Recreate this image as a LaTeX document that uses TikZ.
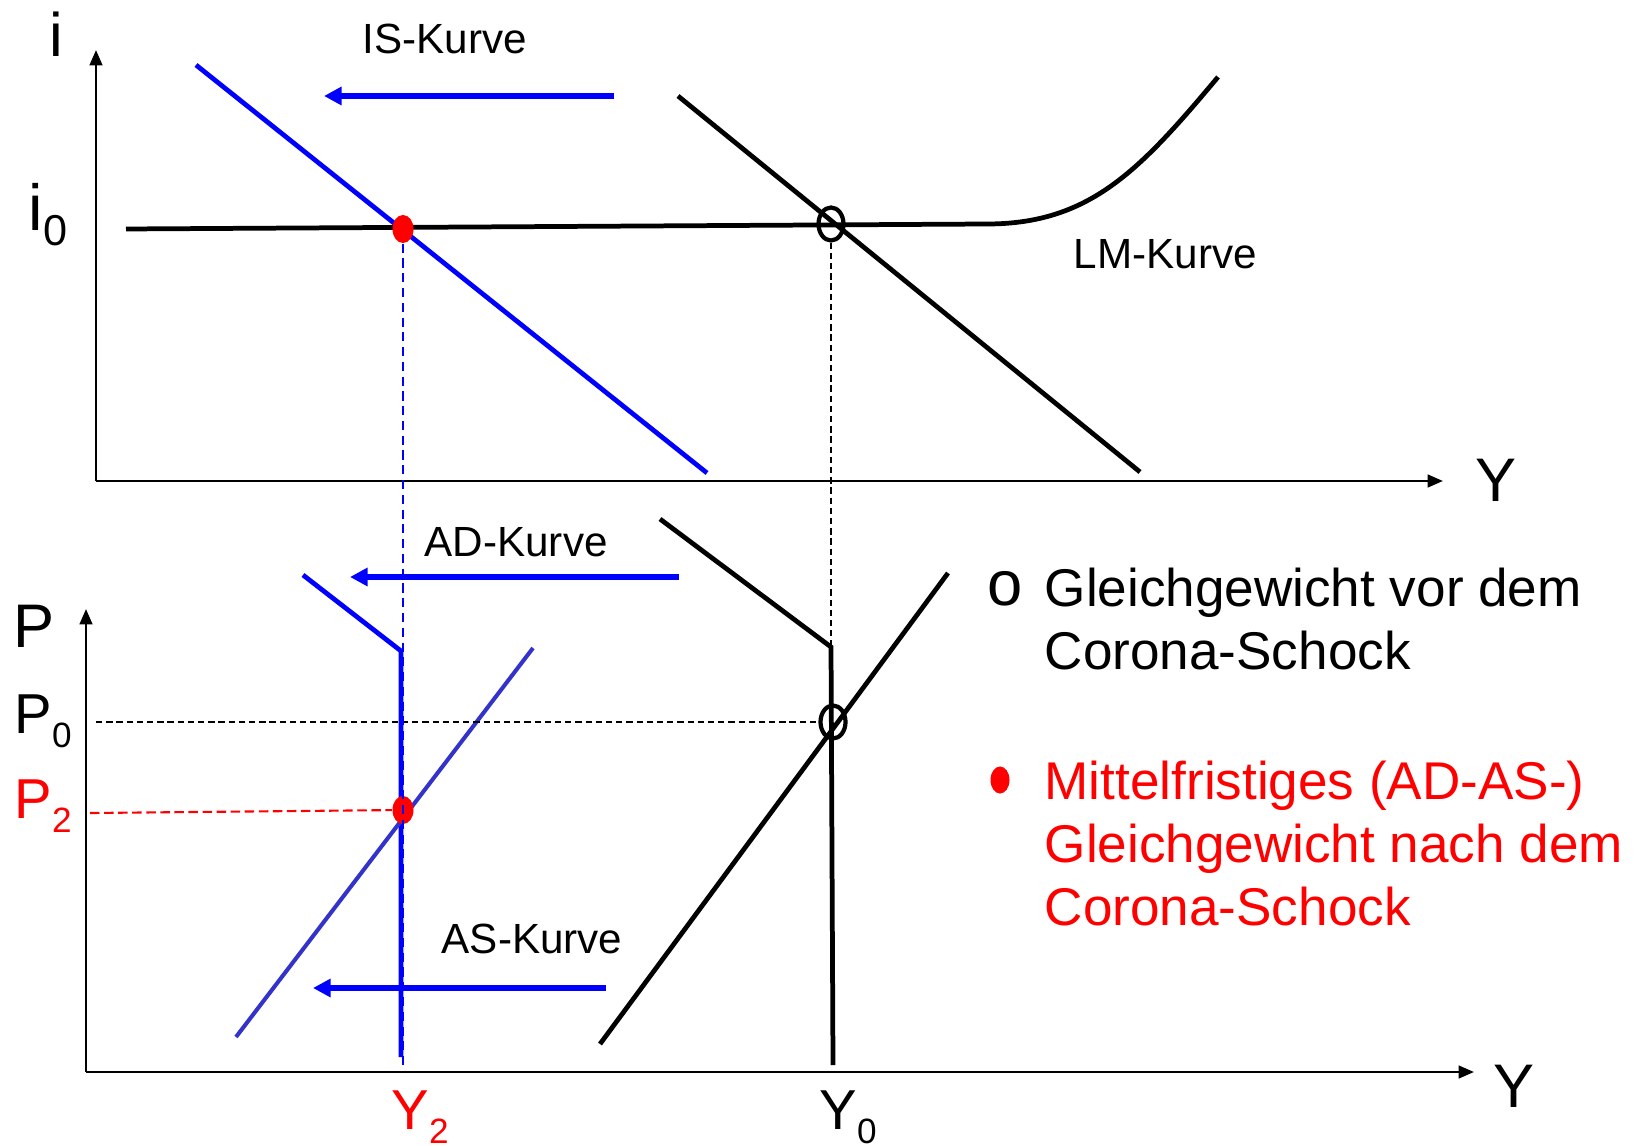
\documentclass[tikz,border=0pt]{standalone}
\usepackage{fontspec}
\setmainfont{Liberation Sans}
\usetikzlibrary{arrows.meta, shapes.geometric}

\definecolor{asblue}{RGB}{51,51,204}
\newcommand{\lowsub}[2][10]{\raisebox{-4pt}{\fontsize{#1}{#1}\selectfont #2}}

\begin{document}
\begin{tikzpicture}[
        x=0.01cm, y=-0.01cm,
        axisline/.style={line width=0.75pt, -{Triangle[length=4.4pt, width=3.6pt]}},
        curveblack/.style={line width=1.35pt},
        curveblue/.style={line width=1.35pt, blue},
        curveas/.style={line width=1.15pt, asblue},
        movearrow/.style={line width=1.45pt, blue, -{Triangle[length=5pt, width=5pt]}},
        guide/.style={line width=0.5pt, dash pattern=on 1.8pt off 1.1pt},
        eqring/.style={ellipse, draw, line width=1.2pt, minimum width=0.25cm, minimum height=0.33cm, inner sep=0pt},
        eqdot/.style={ellipse, fill=red, minimum width=0.21cm, minimum height=0.28cm, inner sep=0pt},
        curvelabel/.style={font=\fontsize{12}{14}\selectfont, anchor=base west, inner sep=0pt},
        axislabel/.style={font=\fontsize{17.5}{20}\selectfont, anchor=base west, inner sep=0pt},
        ticklabel/.style={font=\fontsize{16}{18}\selectfont, anchor=base west, inner sep=0pt},
        legendtext/.style={font=\fontsize{15.1}{17.9}\selectfont, align=left, anchor=north west, inner sep=0pt}
    ]
    \useasboundingbox (0,0) rectangle (1637,1146);

    % IS-LM diagram
    \coordinate (io) at (96,481);
    \coordinate (itop) at (96,50);
    \coordinate (iend) at (1443,481);
    \draw[axisline] (io) -- (itop);
    \draw[axisline] (io) -- (iend);
    \node[axislabel] (ilabel) at (49,57) {i};
    \node[axislabel] (yupper) at (1475,501) {Y};
    \node[ticklabel, font=\fontsize{18.5}{20}\selectfont] (izero) at (28,231) {i\lowsub[12.3]{0}};

    \coordinate (lmA) at (126,229);
    \coordinate (lmB) at (987,224);
    \coordinate (lmC) at (1218,77);
    \draw[curveblack] (lmA) -- (lmB) .. controls (1090,224) and (1140,170) .. (lmC);
    \node[curvelabel] (lmlabel) at (1073,269) {LM-Kurve};

    \coordinate (isA) at (678,96);
    \coordinate (isB) at (1140,472);
    \draw[curveblack] (isA) -- (isB);
    \coordinate (isnewA) at (196,65);
    \coordinate (isnewB) at (707,473);
    \draw[curveblue] (isnewA) -- (isnewB);

    \coordinate (ismoveA) at (614,96);
    \coordinate (ismoveB) at (324,96);
    \draw[movearrow] (ismoveA) -- (ismoveB);
    \node[curvelabel] (islabel) at (362,54) {IS-Kurve};

    % AD-AS diagram
    \coordinate (po) at (86,1072);
    \coordinate (ptop) at (86,609);
    \coordinate (pend) at (1474,1072);
    \draw[axisline] (po) -- (ptop);
    \draw[axisline] (po) -- (pend);
    \node[axislabel] (plabel) at (13,647) {P};
    \node[axislabel] (ylower) at (1493,1107) {Y};
    \node[ticklabel] (pzero) at (14,733) {P\lowsub{0}};
    \node[ticklabel, red] (ptwo) at (14,818) {P\lowsub{2}};
    \node[ticklabel] (yzero) at (819,1129) {Y\lowsub{0}};
    \node[ticklabel, red] (ytwo) at (391,1129) {Y\lowsub{2}};

    \coordinate (adA) at (660,519);
    \coordinate (adK) at (831,647);
    \coordinate (adB) at (833,1065);
    \draw[curveblack] (adA) -- (adK) -- (adB);
    \coordinate (asA) at (600,1044);
    \coordinate (asB) at (948,573);
    \draw[curveblack] (asA) -- (asB);

    \coordinate (adnewA) at (303,575);
    \coordinate (adnewK) at (401,651);
    \coordinate (adnewB) at (401,1057);
    \draw[curveblue] (adnewA) -- (adnewK) -- (adnewB);
    \coordinate (asnewA) at (236,1037);
    \coordinate (asnewB) at (533,648);
    \draw[curveas] (asnewA) -- (asnewB);

    \coordinate (admoveA) at (679,577);
    \coordinate (admoveB) at (350,577);
    \draw[movearrow] (admoveA) -- (admoveB);
    \node[curvelabel] (adlabel) at (424,556) {AD-Kurve};
    \coordinate (asmoveA) at (606,988);
    \coordinate (asmoveB) at (313,988);
    \draw[movearrow] (asmoveA) -- (asmoveB);
    \node[curvelabel] (aslabel) at (441,953) {AS-Kurve};

    % equilibria and guide lines
    \node[eqring] (oldup) at (831,224) {};
    \node[eqring] (oldlow) at (833,722) {};
    \node[eqdot] (newup) at (403,229) {};
    \node[eqdot] (newlow) at (403,810) {};
    \coordinate (ydash) at (403,1070);
    \coordinate (pzerodash) at (96,722);
    \coordinate (ptwodash) at (90,813);

    \draw[guide] (oldup) -- (adK);
    \draw[guide] (pzerodash) -- (oldlow);
    \draw[guide, blue, dash pattern=on 2.6pt off 1.6pt] (newup) -- (ydash);
    \draw[guide, red, line width=0.6pt, dash pattern=on 2.7pt off 1.3pt] (ptwodash) -- (newlow);

    % legend
    \node[font=\fontsize{18}{20}\selectfont, anchor=base, inner sep=0pt] (ringmark) at (1005,605) {o};
    \node[legendtext] (oldtext) at (1044,567) {Gleichgewicht vor dem\\Corona-Schock};
    \node[eqdot, minimum width=0.19cm, minimum height=0.27cm] (dotmark) at (1000,780) {};
    \node[legendtext, text=red] (newtext) at (1044,760) {Mittelfristiges (AD-AS-)\\Gleichgewicht nach dem\\Corona-Schock};
\end{tikzpicture}
\end{document}
